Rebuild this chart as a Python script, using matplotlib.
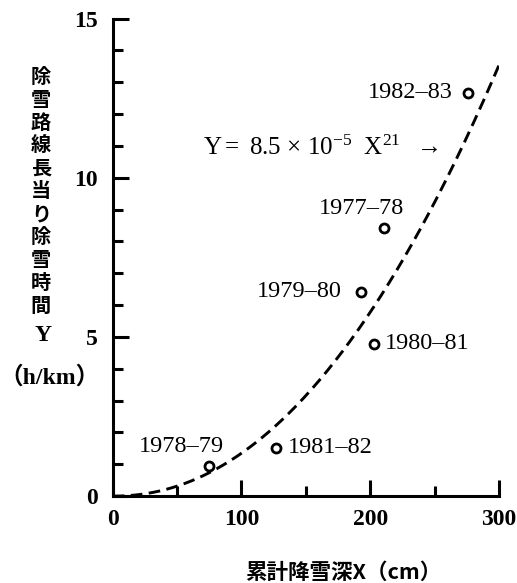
import numpy as np
import matplotlib
matplotlib.use('Agg')
import matplotlib.pyplot as plt

plt.rcParams['font.family'] = ['Liberation Serif', 'Noto Sans CJK JP', 'DejaVu Sans']
plt.rcParams['mathtext.fontset'] = 'custom'
plt.rcParams['mathtext.rm'] = 'Liberation Serif'
plt.rcParams['mathtext.it'] = 'Liberation Serif'

seasons = ['1977–78', '1978–79', '1979–80', '1980–81', '1981–82', '1982–83']
snow_depth = [210.8, 75.0, 193.2, 203.0, 126.7, 275.9]       # X (cm)
removal_time = [8.43, 0.96, 6.42, 4.78, 1.52, 12.67]         # Y (h/km)

# fitted curve Y = a * X^b as printed on the chart
coef_a = 8.5e-5
coef_b = 2.1

fig = plt.figure(figsize=(5.17, 5.83), dpi=100)
ax = fig.add_axes([0.218, 0.149, 0.747, 0.819])

xs = np.linspace(0, 300, 300)
ax.plot(xs, coef_a * xs ** coef_b, color='black', lw=2.1, ls=(0, (4, 2.2)))
ax.plot(snow_depth, removal_time, 'o', ms=6.5, mfc='white', mec='black', mew=2.0)

# label placement (offset points, alignment)
label_pos = {
    '1977–78': ((-16, 14), 'center'),
    '1978–79': ((-20, 14), 'center'),
    '1979–80': ((-14, 0), 'right'),
    '1980–81': ((8, 0), 'left'),
    '1981–82': ((9, 0), 'left'),
    '1982–83': ((-11, 0), 'right'),
}
for s, x, y in zip(seasons, snow_depth, removal_time):
    off, ha = label_pos[s]
    ax.annotate(s, (x, y), xytext=off, textcoords='offset points',
                ha=ha, va='center', fontsize=17.5)

ax.text(70, 10.95, r'Y$=$ 8.5 $\times$ 10$^{-5}$  X$^{21}$  $\rightarrow$',
        fontsize=18, ha='left', va='center')

ax.set_xlim(0, 300)
ax.set_ylim(0, 15)
for side in ['top', 'right']:
    ax.spines[side].set_visible(False)
for side in ['left', 'bottom']:
    ax.spines[side].set_linewidth(2.2)

ax.set_xticks([0, 100, 200, 300])
ax.set_xticks([50, 150, 250], minor=True)
ax.set_yticks([0, 5, 10, 15])
ax.set_yticks(range(1, 15), minor=True)
ax.tick_params(which='major', direction='in', length=11.5, width=2.2,
               labelsize=17, pad=9)
ax.tick_params(which='minor', direction='in', length=7, width=2.2)
ax.tick_params(axis='y', which='major', pad=11)
for lab in ax.get_xticklabels() + ax.get_yticklabels():
    lab.set_fontweight('bold')

# vertical japanese axis label
fig.text(0.079, 0.887, '\n'.join('除雪路線長当り除雪時間'), family='Noto Sans CJK JP',
         fontsize=14.5, fontweight='bold', ha='center', va='top', linespacing=1.11)
fig.text(0.083, 0.425, 'Y', fontsize=17, fontweight='bold', ha='center', va='center')
fig.text(0.095, 0.352, '（h/km）', fontsize=17, fontweight='bold', ha='center', va='center')
fig.text(0.664, 0.019, '累計降雪深X（cm）', family=['Noto Sans CJK JP'], fontsize=15.5,
         fontweight='bold', ha='center', va='center')

fig.savefig('out.png', dpi=100)
